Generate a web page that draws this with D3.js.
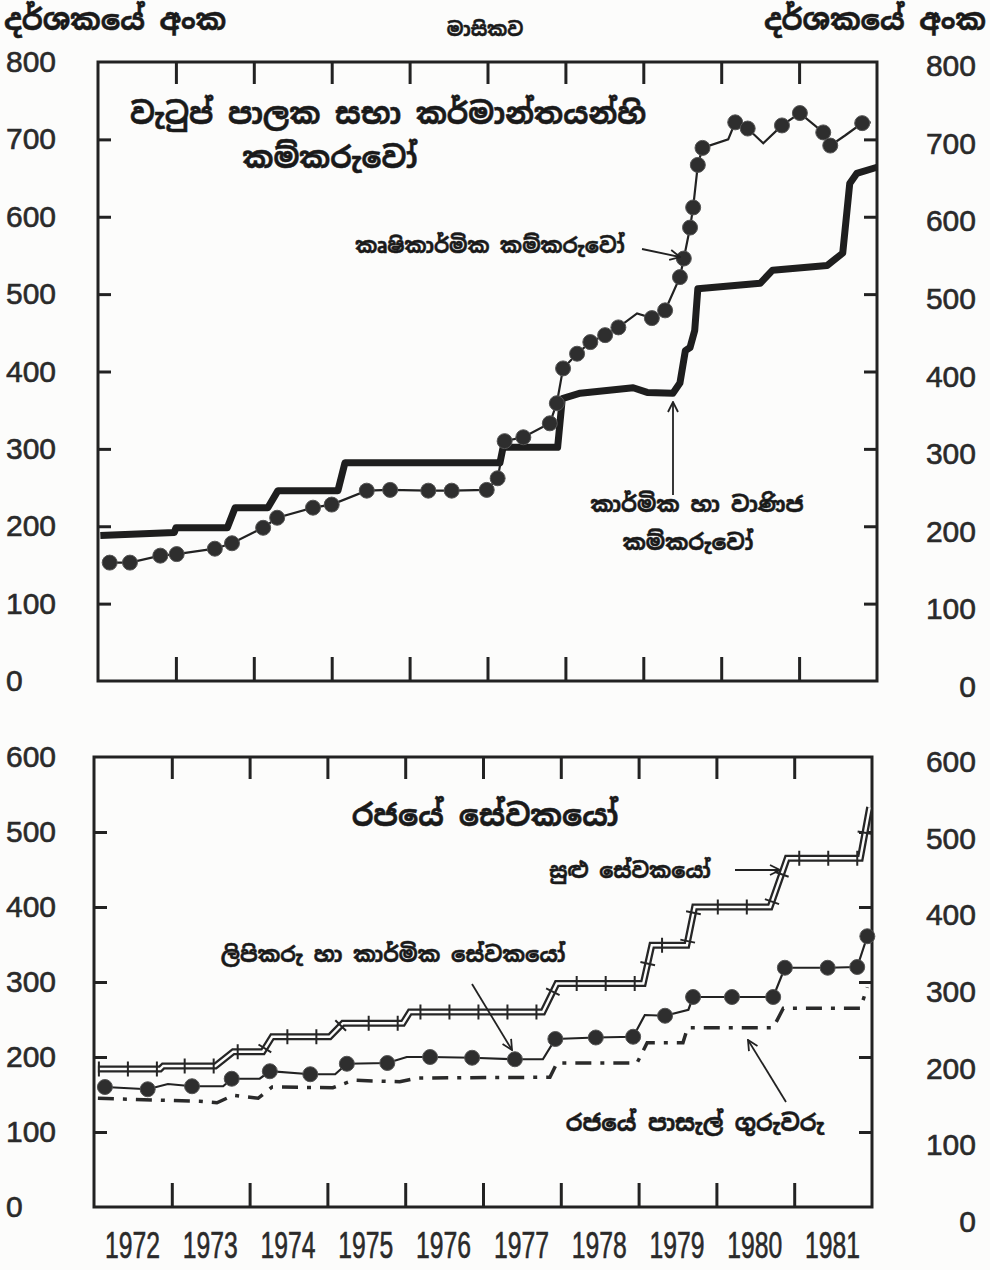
<!DOCTYPE html>
<html>
<head>
<meta charset="utf-8">
<script src="https://cdn.jsdelivr.net/npm/d3@7/dist/d3.min.js"></script>
<style>
  html, body { margin: 0; padding: 0; background: #fcfcfb; }
  svg { display: block; }
  .num { font-family: "Liberation Sans", Arial, sans-serif; fill: #2a2a2a; stroke: #2a2a2a; stroke-width: 0.6; }
  .si { font-family: "Noto Sans Sinhala", "Iskoola Pota", "Noto Sans", sans-serif; fill: #1a1a1a; font-weight: 700; stroke: #1a1a1a; stroke-width: 0.5; }
</style>
</head>
<body>
<svg id="chart" width="990" height="1270"></svg>
<script>
// ---------------- DATA ----------------
const years = [1972, 1973, 1974, 1975, 1976, 1977, 1978, 1979, 1980, 1981];
const topTickLabels = [0, 100, 200, 300, 400, 500, 600, 700, 800];
const bottomTickLabels = [0, 100, 200, 300, 400, 500, 600];

// Top panel: industrial & commercial workers (thick step line) [time, index]
const industrialCommercial = [
  [1972.03,188],[1972.98,192],[1973.00,198],[1973.66,198],[1973.76,224],[1974.18,224],
  [1974.31,246],[1975.08,246],[1975.17,282],[1977.16,282],[1977.20,302],[1977.90,302],
  [1977.96,365],[1978.19,372],[1978.87,379],[1979.05,373],[1979.38,372],[1979.47,385],
  [1979.54,427],[1979.60,431],[1979.66,453],[1979.70,507],[1980.50,514],[1980.66,531],
  [1981.36,537],[1981.56,553],[1981.65,643],[1981.74,656],[1982.00,664]
];
// Top panel: agricultural workers (line with dots) [time, index, dot?]
const agricultural = [
  [1972.15,153,1],[1972.41,153,1],[1972.80,162,1],[1973.01,164,1],[1973.50,171,1],[1973.72,178,1],
  [1974.12,198,1],[1974.30,211,1],[1974.76,224,1],[1975.00,228,1],[1975.45,246,1],[1975.75,247,1],
  [1976.24,246,1],[1976.54,246,1],[1976.99,247,1],[1977.13,262,1],[1977.22,310,1],[1977.46,315,1],
  [1977.80,333,1],[1977.89,359,1],[1977.97,404,1],[1978.15,423,1],[1978.32,438,1],[1978.51,447,1],
  [1978.68,457,1],[1978.92,475,0],[1979.11,469,1],[1979.28,479,1],[1979.47,522,1],[1979.52,546,1],
  [1979.60,586,1],[1979.64,612,1],[1979.70,667,1],[1979.76,689,1],[1980.09,700,0],[1980.18,722,1],
  [1980.34,714,1],[1980.54,695,0],[1980.78,718,1],[1981.01,734,1],[1981.31,709,1],[1981.40,692,1],
  [1981.59,705,0],[1981.81,721,1],[1981.92,722,0]
];
// Bottom panel: minor employees (double hatched step line)
const minorEmployees = [
  [1972.05,184],[1972.85,184],[1972.89,188],[1973.56,188],[1973.79,207],[1974.17,207],
  [1974.29,227],[1975.03,227],[1975.20,245],[1975.97,245],[1976.06,260],[1977.77,260],
  [1977.95,298],[1979.06,298],[1979.17,349],[1979.62,349],[1979.72,400],[1980.69,400],
  [1980.91,465],[1981.85,465],[1981.97,533]
];
// Bottom panel: clerical & technical employees (line with dots) [time, index, dot?]
const clericalTechnical = [
  [1972.14,160,1],[1972.69,157,1],[1972.95,164,0],[1973.26,161,1],[1973.66,161,0],[1973.77,171,1],
  [1974.13,171,0],[1974.26,181,1],[1974.78,177,1],[1975.10,177,0],[1975.25,191,1],[1975.77,192,1],
  [1976.02,200,0],[1976.32,200,1],[1976.86,199,1],[1977.41,197,1],[1977.77,197,0],[1977.93,224,1],
  [1978.45,226,1],[1978.93,227,1],[1979.08,256,0],[1979.34,255,1],[1979.64,263,0],[1979.70,280,1],
  [1980.20,280,1],[1980.73,280,1],[1980.88,319,1],[1981.43,319,1],[1981.81,320,1],[1981.94,361,1]
];
// Bottom panel: government school teachers (dash-dot line)
const schoolTeachers = [
  [1972.05,145],[1972.98,142],[1973.36,141],[1973.58,139],[1973.79,149],[1974.11,145],
  [1974.29,160],[1975.07,159],[1975.33,169],[1975.93,167],[1976.15,172],[1977.86,173],
  [1977.95,192],[1978.98,192],[1979.11,219],[1979.57,219],[1979.63,239],[1980.73,239],
  [1980.86,265],[1981.85,265],[1981.94,293]
];

// ---------------- CHART ----------------
const svg = d3.select("#chart");
const ink = "#222";

const xTop = d3.scaleLinear().domain([1972, 1982]).range([98, 877]);
const yTop = d3.scaleLinear().domain([0, 800]).range([681, 62]);
const yTopR = d3.scaleLinear().domain([0, 800]).range([687, 66]);
const xBot = d3.scaleLinear().domain([1972, 1982]).range([94, 872]);
const yBot = d3.scaleLinear().domain([0, 600]).range([1207, 757]);
const yBotR = d3.scaleLinear().domain([0, 600]).range([1222, 762]);

const defs = svg.append("defs");
defs.append("marker").attr("id", "arr").attr("viewBox", "0 0 12 12")
  .attr("refX", 11).attr("refY", 6).attr("markerWidth", 12).attr("markerHeight", 12)
  .attr("markerUnits", "userSpaceOnUse").attr("orient", "auto")
  .append("path").attr("d", "M1,1 L11,6 L1,11").attr("fill", "none")
  .attr("stroke", ink).attr("stroke-width", 1.8);

function frame(x, y, inner) {
  const [x0, x1] = x.range();
  const [y1, y0] = y.range();
  const g = svg.append("g");
  g.append("rect").attr("x", x0).attr("y", y0).attr("width", x1 - x0).attr("height", y1 - y0)
    .attr("fill", "none").attr("stroke", ink).attr("stroke-width", 3);
  const xt = years.slice(1);
  const axT = d3.axisTop(x).tickValues(xt).tickSize(-22).tickFormat("");
  const axB = d3.axisBottom(x).tickValues(xt).tickSize(-24).tickFormat("");
  const axL = d3.axisLeft(y).tickValues(inner).tickSize(-13).tickFormat("");
  const axR = d3.axisRight(y).tickValues(inner).tickSize(-13).tickFormat("");
  [[axT, `translate(0,${y0})`], [axB, `translate(0,${y1})`], [axL, `translate(${x0},0)`], [axR, `translate(${x1},0)`]]
    .forEach(([ax, tr]) => {
      const a = g.append("g").attr("transform", tr).call(ax);
      a.select(".domain").remove();
      a.selectAll("line").attr("stroke", ink).attr("stroke-width", 3);
    });
}

frame(xTop, yTop, topTickLabels.slice(1, -1));
frame(xBot, yBot, bottomTickLabels.slice(1, -1));

function yLabels(vals, yl, yr) {
  svg.append("g").selectAll("text").data(vals).join("text").attr("class", "num")
    .attr("x", 6).attr("y", d => yl(d) + 10).attr("font-size", 30).text(d => d);
  svg.append("g").selectAll("text").data(vals).join("text").attr("class", "num")
    .attr("x", 976).attr("y", d => yr(d) + 10).attr("text-anchor", "end").attr("font-size", 30).text(d => d);
}
yLabels(topTickLabels, yTop, yTopR);
yLabels(bottomTickLabels, yBot, yBotR);

svg.append("g").selectAll("text").data(years).join("text").attr("class", "num")
  .attr("x", d => xBot(d + 0.5) - 28).attr("y", 1258).attr("font-size", 36)
  .attr("font-family", "'DejaVu Sans Condensed','DejaVu Sans',sans-serif")
  .attr("textLength", 55).attr("lengthAdjust", "spacingAndGlyphs").text(d => d);

// ---- top series
const lineT = d3.line().x(d => xTop(d[0])).y(d => yTop(d[1]));
svg.append("path").attr("d", lineT(industrialCommercial)).attr("fill", "none")
  .attr("stroke", "#1e1e1e").attr("stroke-width", 7).attr("stroke-linejoin", "round");
svg.append("path").attr("d", lineT(agricultural)).attr("fill", "none")
  .attr("stroke", ink).attr("stroke-width", 2.2);
svg.append("g").selectAll("circle").data(agricultural.filter(d => d[2])).join("circle")
  .attr("cx", d => xTop(d[0])).attr("cy", d => yTop(d[1])).attr("r", 7.5)
  .attr("fill", "#2e2e2e").attr("stroke", "#555").attr("stroke-width", 1);

// ---- bottom series
const lineB = d3.line().x(d => xBot(d[0])).y(d => yBot(d[1]));
svg.append("path").attr("d", lineB(minorEmployees)).attr("fill", "none")
  .attr("stroke", "#262626").attr("stroke-width", 7);
svg.append("path").attr("d", lineB(minorEmployees)).attr("fill", "none")
  .attr("stroke", "#fcfcfb").attr("stroke-width", 2.4);
svg.append("path").attr("d", lineB(minorEmployees)).attr("fill", "none")
  .attr("stroke", "#262626").attr("stroke-width", 15).attr("stroke-dasharray", "2,27");

svg.append("path").attr("d", lineB(schoolTeachers)).attr("fill", "none")
  .attr("stroke", "#2a2a2a").attr("stroke-width", 3.5).attr("stroke-dasharray", "16,9,4,9");

svg.append("path").attr("d", lineB(clericalTechnical)).attr("fill", "none")
  .attr("stroke", ink).attr("stroke-width", 2.2);
svg.append("g").selectAll("circle").data(clericalTechnical.filter(d => d[2])).join("circle")
  .attr("cx", d => xBot(d[0])).attr("cy", d => yBot(d[1])).attr("r", 7.5)
  .attr("fill", "#2e2e2e").attr("stroke", "#555").attr("stroke-width", 1);

// ---- texts
function si(txt, x, y, size, anchor) {
  svg.append("text").attr("class", "si").attr("x", x).attr("y", y)
    .attr("font-size", size).attr("text-anchor", anchor || "start").text(txt);
}
si("දර්ශකයේ අංක", 4, 30, 29);
si("මාසිකව", 485, 36, 19, "middle");
si("දර්ශකයේ අංක", 986, 30, 29, "end");
si("වැටුප් පාලක සභා කර්මාන්තයන්හි", 388, 124, 29.5, "middle");
si("කම්කරුවෝ", 330, 168, 29.5, "middle");
si("කෘෂිකාර්මික  කම්කරුවෝ", 490, 253, 21, "middle");
si("කාර්මික  හා  වාණිජ", 697, 512, 22, "middle");
si("කම්කරුවෝ", 688, 550, 22, "middle");
si("රජයේ  සේවකයෝ", 485, 826, 30, "middle");
si("සුළු  සේවකයෝ", 630, 878, 21, "middle");
si("ලිපිකරු  හා  කාර්මික  සේවකයෝ", 393, 962, 21.5, "middle");
si("රජයේ  පාසැල්  ගුරුවරු", 695, 1131, 23, "middle");

function arrow(x1, y1, x2, y2) {
  svg.append("line").attr("x1", x1).attr("y1", y1).attr("x2", x2).attr("y2", y2)
    .attr("stroke", ink).attr("stroke-width", 1.8).attr("marker-end", "url(#arr)");
}
arrow(642, 249, 680, 257);
arrow(673, 495, 673, 402);
arrow(735, 870, 780, 870);
arrow(472, 984, 512, 1050);
arrow(786, 1102, 748, 1040);
</script>
</body>
</html>
